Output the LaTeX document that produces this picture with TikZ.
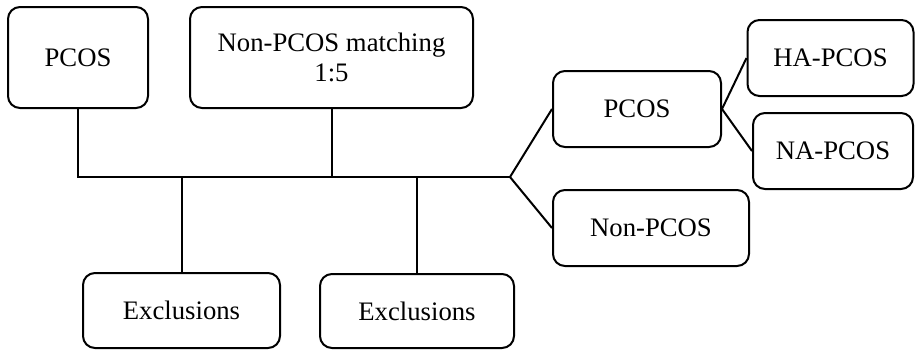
\documentclass[tikz,border=0pt]{standalone}
\usepackage{fontspec}
\setmainfont{Liberation Serif}
\usepackage{tikz}

\begin{document}
\begin{tikzpicture}[x=0.5pt, y=-0.5pt, line width=1pt,
        main/.style = {draw, rounded corners=6pt, inner sep=0pt, align=center,
            font=\fontsize{13.35}{15}\selectfont}]
        \useasboundingbox (0,0) rectangle (915,350);

        \node[main, minimum width=70pt, minimum height=50.5pt] (pcos) at (78,57.5) {PCOS};
        \node[main, minimum width=141.5pt, minimum height=50.5pt] (match) at (331.5,57.5) {Non-PCOS matching\\1:5};
        \node[main, minimum width=98.5pt, minimum height=37.5pt] (exc1) at (181.5,310.5) {Exclusions};
        \node[main, minimum width=97pt, minimum height=37pt] (exc2) at (417,311) {Exclusions};
        \node[main, minimum width=84pt, minimum height=38pt] (pcos2) at (637,109) {PCOS};
        \node[main, minimum width=98pt, minimum height=38pt] (non) at (651,228) {Non-PCOS};
        \node[main, minimum width=83pt, minimum height=38pt] (ha) at (830.5,58) {HA-PCOS};
        \node[main, minimum width=80pt, minimum height=38pt] (na) at (833,151) {NA-PCOS};
        \coordinate (split) at (510,177);

        \draw (pcos.south) |- (split);
        \draw (match.south) -- (match.south |- split);
        \draw (exc1.north) -- (exc1.north |- split);
        \draw (exc2.north) -- (exc2.north |- split);
        \draw (split) -- (pcos2.west);
        \draw (split) -- (non.west);
        \draw (pcos2.east) -- (ha.west);
        \draw (pcos2.east) -- (na.west);

    \end{tikzpicture}
\end{document}
